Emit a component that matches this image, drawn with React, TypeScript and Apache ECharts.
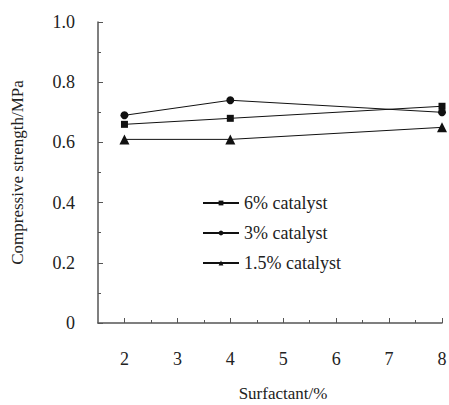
import React, { useEffect, useRef } from "react";
import * as echarts from "echarts";

const surfactant = [2, 4, 8];
const cat6 = [0.66, 0.68, 0.72];
const cat3 = [0.69, 0.74, 0.70];
const cat15 = [0.61, 0.61, 0.65];
const seriesNames = ["6% catalyst", "3% catalyst", "1.5% catalyst"];
const xMajorTicks = [2, 3, 4, 5, 6, 7, 8];
const xMinorTicks = [2.5, 3.5, 4.5, 5.5, 6.5, 7.5];

const FONT = "Liberation Serif, Times New Roman, serif";
const TXT = "#222";
const AX = "#555";

export default function App() {
  const ref = useRef<HTMLDivElement>(null);
  useEffect(() => {
    if (!ref.current) return;
    const chart = echarts.init(ref.current, null, { renderer: "svg" });
    const mk = (vals: number[]) => surfactant.map((x, i) => [x, vals[i]]);
    const lineStyle = { color: "#111", width: 1 };
    const itemStyle = { color: "#111" };
    chart.setOption({
      animation: false,
      backgroundColor: "#fff",
      textStyle: { fontFamily: FONT },
      grid: { left: 98, right: 7, top: 22, bottom: 82, outerBoundsMode: "none", containLabel: false },
      legend: {
        orient: "vertical",
        left: 197,
        top: 189,
        itemWidth: 36,
        itemHeight: 6,
        itemGap: 12,
        textStyle: { fontFamily: FONT, fontSize: 18, color: TXT },
        data: seriesNames,
      },
      xAxis: [
        {
          type: "value",
          min: 1.5,
          max: 8,
          interval: 0.5,
          splitLine: { show: false },
          axisLine: { lineStyle: { color: AX, width: 1.5 } },
          axisTick: { inside: true, length: 5, lineStyle: { color: AX }, customValues: xMajorTicks },
          axisLabel: {
            customValues: xMajorTicks,
            margin: 27,
            fontFamily: FONT,
            fontSize: 18,
            color: TXT,
          },
          name: "Surfactant/%",
          nameLocation: "middle",
          nameGap: 62,
          nameTextStyle: { fontFamily: FONT, fontSize: 17, color: TXT, padding: [0, 0, 0, 26] },
        },
        {
          type: "value",
          min: 1.5,
          max: 8,
          interval: 0.5,
          position: "bottom",
          splitLine: { show: false },
          axisLine: { show: false },
          axisTick: { inside: true, length: 3, lineStyle: { color: AX }, customValues: xMinorTicks },
          axisLabel: { show: false },
        },
      ],
      yAxis: {
        type: "value",
        min: 0,
        max: 1,
        interval: 0.2,
        splitLine: { show: false },
        axisLine: { show: true, lineStyle: { color: AX, width: 1.5 } },
        axisTick: { show: true, inside: true, length: 5, lineStyle: { color: AX } },
        minorTick: { show: true, splitNumber: 2, length: 3, lineStyle: { color: AX } },
        minorSplitLine: { show: false },
        axisLabel: {
          margin: 23,
          fontFamily: FONT,
          fontSize: 18,
          color: TXT,
          formatter: (v: number) => (v === 0 ? "0" : v.toFixed(1)),
        },
        name: "Compressive strength/MPa",
        nameLocation: "middle",
        nameGap: 72,
        nameTextStyle: { fontFamily: FONT, fontSize: 17, color: TXT },
      },
      series: [
        { name: seriesNames[0], type: "line", data: mk(cat6), symbol: "rect", symbolSize: 7, lineStyle, itemStyle },
        { name: seriesNames[1], type: "line", data: mk(cat3), symbol: "circle", symbolSize: 8, lineStyle, itemStyle },
        { name: seriesNames[2], type: "line", data: mk(cat15), symbol: "triangle", symbolSize: 10, lineStyle, itemStyle },
      ],
    });
    return () => chart.dispose();
  }, []);
  return <div ref={ref} style={{ width: 449, height: 405, position: "absolute", left: 0, top: 0 }} />;
}
